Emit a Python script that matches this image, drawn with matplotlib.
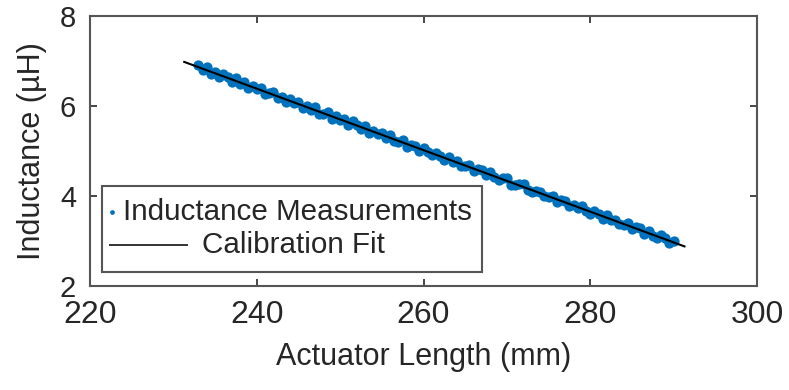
import matplotlib

matplotlib.use("Agg")
import matplotlib.pyplot as plt
from matplotlib.patches import Rectangle

# measured inductance vs actuator length
length_mm = [
    233.0, 233.5, 234.0, 234.5, 235.0, 235.5, 236.0, 236.5, 237.0, 237.5,
    238.0, 238.5, 239.0, 239.5, 240.0, 240.5, 241.0, 241.5, 242.0, 242.5,
    243.0, 243.5, 244.0, 244.5, 245.0, 245.5, 246.0, 246.5, 247.0, 247.5,
    248.0, 248.5, 249.0, 249.5, 250.0, 250.5, 251.0, 251.5, 252.0, 252.5,
    253.0, 253.5, 254.0, 254.5, 255.0, 255.5, 256.0, 256.5, 257.0, 257.5,
    258.0, 258.5, 259.0, 259.5, 260.0, 260.5, 261.0, 261.5, 262.0, 262.5,
    263.0, 263.5, 264.0, 264.5, 265.0, 265.5, 266.0, 266.5, 267.0, 267.5,
    268.0, 268.5, 269.0, 269.5, 270.0, 270.5, 271.0, 271.5, 272.0, 272.5,
    273.0, 273.5, 274.0, 274.5, 275.0, 275.5, 276.0, 276.5, 277.0, 277.5,
    278.0, 278.5, 279.0, 279.5, 280.0, 280.5, 281.0, 281.5, 282.0, 282.5,
    283.0, 283.5, 284.0, 284.5, 285.0, 285.5, 286.0, 286.5, 287.0, 287.5,
    288.0, 288.5, 289.0, 289.5, 290.0,
]
inductance_uH = [
    6.91, 6.80, 6.86, 6.71, 6.75, 6.65, 6.71, 6.64, 6.54, 6.62,
    6.50, 6.53, 6.39, 6.45, 6.38, 6.40, 6.27, 6.30, 6.31, 6.18,
    6.19, 6.09, 6.15, 6.06, 6.09, 5.96, 6.00, 5.91, 5.97, 5.83,
    5.83, 5.86, 5.71, 5.77, 5.68, 5.71, 5.58, 5.66, 5.58, 5.49,
    5.55, 5.40, 5.45, 5.38, 5.40, 5.28, 5.35, 5.23, 5.21, 5.24,
    5.10, 5.14, 5.12, 5.01, 5.07, 4.97, 4.90, 4.96, 4.89, 4.79,
    4.87, 4.75, 4.77, 4.67, 4.66, 4.69, 4.56, 4.61, 4.58, 4.46,
    4.53, 4.43, 4.36, 4.39, 4.39, 4.24, 4.25, 4.27, 4.27, 4.14,
    4.08, 4.12, 4.09, 3.99, 3.98, 4.01, 3.87, 3.92, 3.90, 3.77,
    3.81, 3.73, 3.77, 3.67, 3.60, 3.66, 3.60, 3.49, 3.58, 3.46,
    3.47, 3.37, 3.35, 3.40, 3.26, 3.31, 3.28, 3.16, 3.23, 3.12,
    3.07, 3.13, 3.06, 2.95, 3.00,
]

# linear calibration fit, end points
fit_length_mm = [231.3, 291.3]
fit_inductance_uH = [6.98, 2.88]

x_ticks = [220, 240, 260, 280, 300]
y_ticks = [2, 4, 6, 8]

TEXT = "#262626"
BLUE = "#0072BD"

plt.rcParams["font.family"] = ["Liberation Sans", "DejaVu Sans"]

fig = plt.figure(figsize=(7.89, 3.90), dpi=100)
ax = fig.add_axes([90 / 789, 1 - 286 / 390, 667 / 789, 270 / 390])

ax.plot(length_mm, inductance_uH, "o", color=BLUE, markersize=7.4,
        markeredgewidth=0, zorder=2)
ax.plot(fit_length_mm, fit_inductance_uH, color="black", linewidth=1.5, zorder=3)

ax.set_xlim(220, 300)
ax.set_ylim(2, 8)
ax.set_xticks(x_ticks)
ax.set_yticks(y_ticks)
ax.tick_params(direction="in", length=5, width=1.2, colors=TEXT, top=True, right=True)
ax.tick_params(axis="x", labelsize=23, pad=10)
ax.tick_params(axis="y", labelsize=21, pad=10)
for s in ax.spines.values():
    s.set_color("#555555")
    s.set_linewidth(1.5)

ax.set_xlabel("Actuator Length (mm)", fontsize=22, color=TEXT, labelpad=9)
ax.set_ylabel("Inductance (µH)", fontsize=22, color=TEXT, labelpad=9)

# legend drawn by hand to get the uneven row indents
ax.add_patch(Rectangle((0.018, 0.052), 0.570, 0.318, transform=ax.transAxes,
                       facecolor="white", edgecolor="#555555", linewidth=1.5, zorder=5))
ax.plot([0.033], [0.274], "o", color=BLUE, markersize=3.4, markeredgewidth=0,
        transform=ax.transAxes, zorder=6)
ax.text(0.049, 0.274, "Inductance Measurements", transform=ax.transAxes,
        fontsize=21.3, color=TEXT, va="center", ha="left", zorder=6)
ax.plot([0.030, 0.145], [0.152, 0.152], color="#333333", linewidth=1.4,
        transform=ax.transAxes, zorder=6)
ax.text(0.168, 0.152, "Calibration Fit", transform=ax.transAxes,
        fontsize=21.3, color=TEXT, va="center", ha="left", zorder=6)

fig.savefig("out.png", dpi=100)
